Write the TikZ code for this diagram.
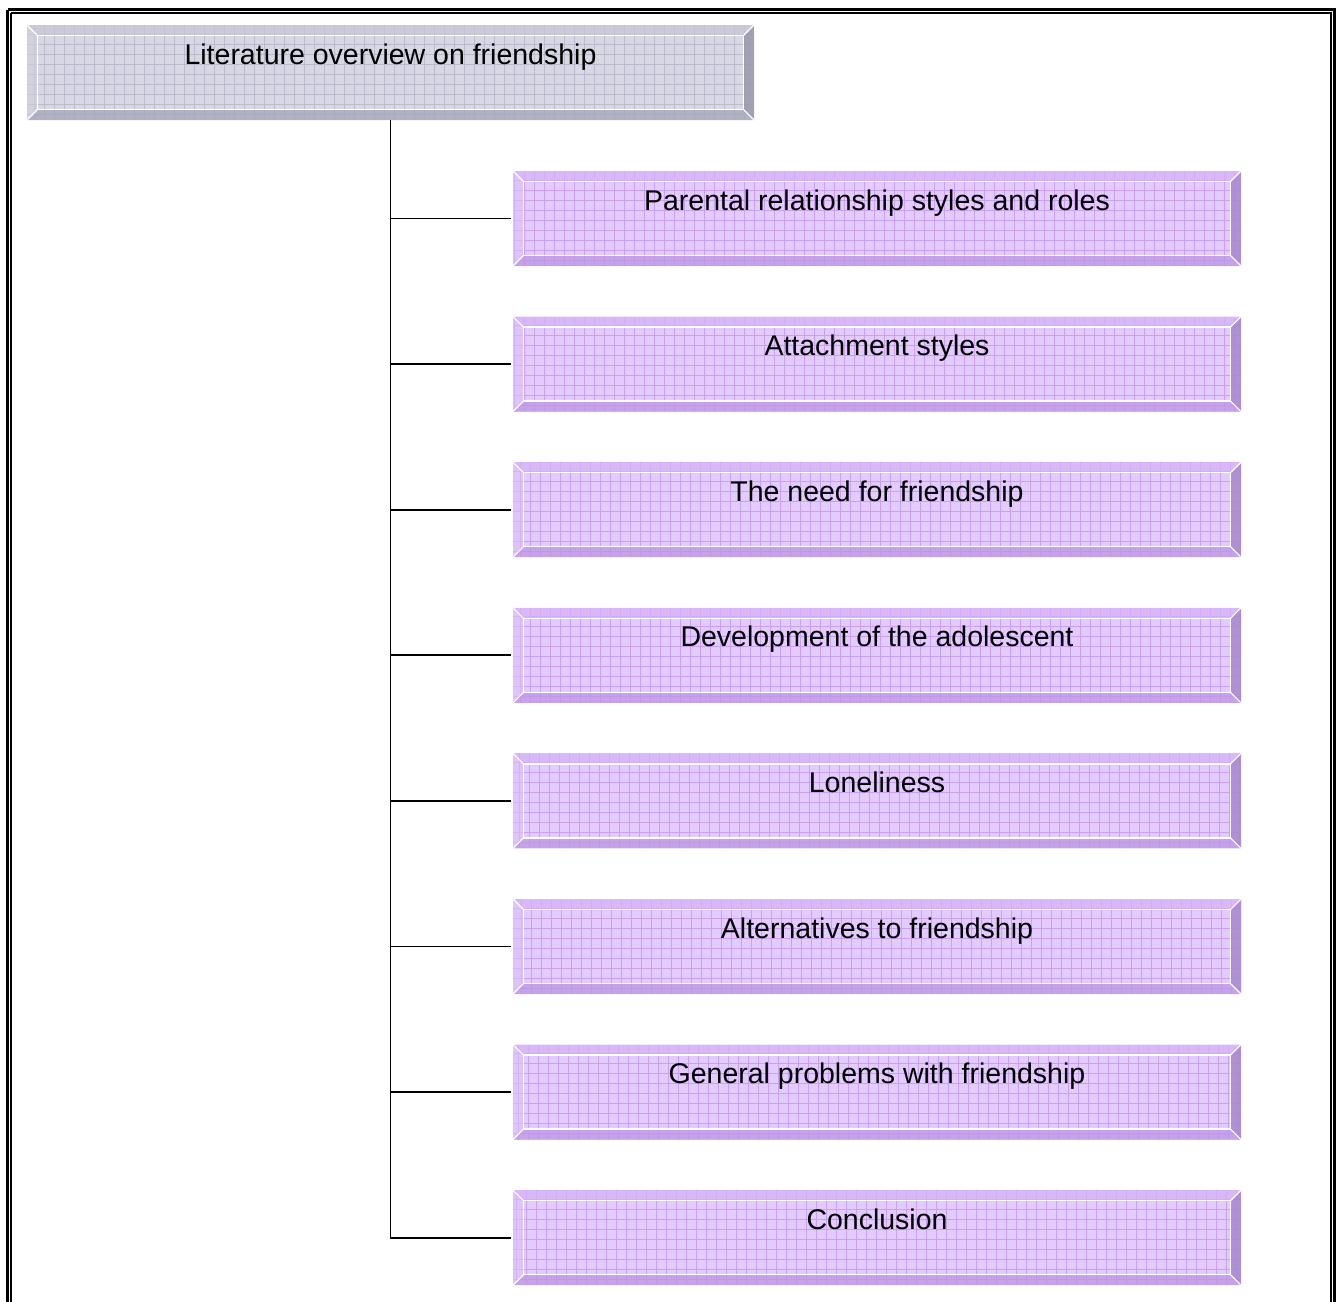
\documentclass[tikz,border=0pt]{standalone}
\usepackage{fontspec}
\setmainfont{Liberation Sans}
\usetikzlibrary{calc}
\definecolor{gface}{HTML}{D8D8E4}
\definecolor{ggrid}{HTML}{BBBBCD}
\definecolor{gtop}{HTML}{C6C6D6}
\definecolor{gleft}{HTML}{CECEDC}
\definecolor{gbot}{HTML}{A8A8BD}
\definecolor{gright}{HTML}{9898AD}
\definecolor{pface}{HTML}{E4CBFE}
\definecolor{pgrid}{HTML}{C9A0F2}
\definecolor{ptop}{HTML}{D6B2F8}
\definecolor{pleft}{HTML}{DCBEFA}
\definecolor{pbot}{HTML}{BE98E4}
\definecolor{pright}{HTML}{A688CC}
\newcommand\bevelpic[5]{%
  \draw[#1, line width=0.7pt, step=10pt] (path picture bounding box.south west) grid (path picture bounding box.north east);
  \coordinate (pnw) at (path picture bounding box.north west);
  \coordinate (pne) at (path picture bounding box.north east);
  \coordinate (psw) at (path picture bounding box.south west);
  \coordinate (pse) at (path picture bounding box.south east);
  \coordinate (qnw) at ($(pnw)+(10.5pt,-10.5pt)$);
  \coordinate (qne) at ($(pne)+(-10.5pt,-10.5pt)$);
  \coordinate (qsw) at ($(psw)+(10.5pt,10.5pt)$);
  \coordinate (qse) at ($(pse)+(-10.5pt,10.5pt)$);
  \fill[#2, opacity=0.75] (pnw) -- (pne) -- (qne) -- (qnw) -- cycle;
  \fill[#3, opacity=0.6] (pnw) -- (psw) -- (qsw) -- (qnw) -- cycle;
  \fill[#4, opacity=0.8] (psw) -- (pse) -- (qse) -- (qsw) -- cycle;
  \fill[#5, opacity=0.85] (pse) -- (pne) -- (qne) -- (qse) -- cycle;
  \draw[white, line width=1.3pt] (qnw) rectangle (qse);
  \draw[white, line width=1.1pt] (pnw) -- (qnw) (pne) -- (qne) (psw) -- (qsw) (pse) -- (qse);
}
\tikzset{
  bevbox/.style={inner sep=0pt, minimum height=95, text height=21pt, text depth=38pt,
    font=\fontsize{28.5}{34}\selectfont},
  greybox/.style={bevbox, minimum width=727, fill=gface,
    path picture={\bevelpic{ggrid}{gtop}{gleft}{gbot}{gright}}},
  purplebox/.style={bevbox, minimum width=728, fill=pface,
    path picture={\bevelpic{pgrid}{ptop}{pleft}{pbot}{pright}}},
  conn/.style={black, line width=1.9pt},
}
\begin{document}
\begin{tikzpicture}[x=1pt, y=-1pt]
\useasboundingbox (0,0) rectangle (1338,1301);
\fill[white] (0,0) rectangle (1338,1301);
\begin{scope}
\clip (0,0) rectangle (1338,1301);
\draw[line width=3pt] (7.5,9.5) -- (1334,9.5) -- (1334,1320) (7.5,9.5) -- (7.5,1320);
\draw[line width=1.3pt] (11,13) -- (1331,13) -- (1331,1320) (11,13) -- (11,1320);
\end{scope}
\node[greybox] (top) at (390.5,72.5) {Literature overview on friendship};
\node[purplebox] (b1) at (877,218.5) {Parental relationship styles and roles};
\node[purplebox] (b2) at (877,364.1) {Attachment styles};
\node[purplebox] (b3) at (877,509.7) {The need for friendship};
\node[purplebox] (b4) at (877,655.3) {Development of the adolescent};
\node[purplebox] (b5) at (877,800.9) {Loneliness};
\node[purplebox] (b6) at (877,946.5) {Alternatives to friendship};
\node[purplebox] (b7) at (877,1092.1) {General problems with friendship};
\node[purplebox] (b8) at (877,1237.7) {Conclusion};
\foreach \b in {b1,b2,b3,b4,b5,b6,b7,b8}{
  \draw[conn] (top.south) |- ([xshift=-2pt]\b.west);
}
\end{tikzpicture}
\end{document}
